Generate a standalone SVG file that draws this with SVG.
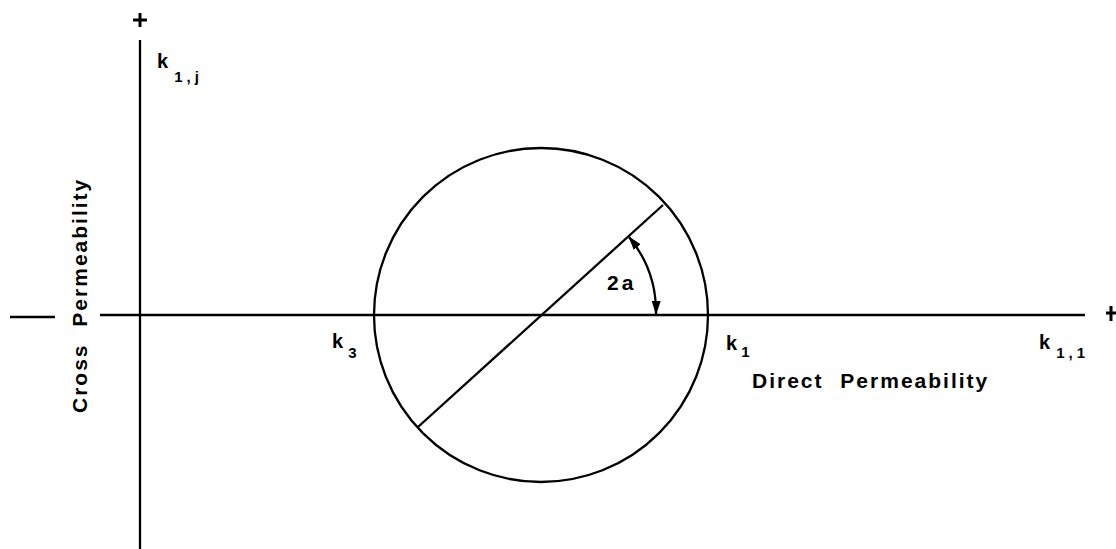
<svg xmlns="http://www.w3.org/2000/svg" width="1116" height="549" viewBox="0 0 1116 549">
<style>
.ln{stroke:#000;stroke-width:2.3;fill:none}
.pl{stroke:#000;stroke-width:3;fill:none}
.t{font-family:"Liberation Sans",Arial,sans-serif;font-weight:bold;fill:#000}
.lab{font-size:21px;letter-spacing:2px;word-spacing:9px}
.k{font-size:20px}
.sub{font-size:15px;letter-spacing:4px}
</style>
<defs>
<marker id="ah" markerWidth="14" markerHeight="10" refX="13" refY="5" orient="auto-start-reverse" markerUnits="userSpaceOnUse" viewBox="0 0 14 10">
<path d="M0,0.5 L14,5 L0,9.5 Z" fill="#000"/>
</marker>
</defs>
<g id="axes">
<line class="ln" x1="140" y1="40" x2="140" y2="549"/>
<line class="ln" x1="100" y1="315" x2="1085" y2="315"/>
<line class="ln" x1="10" y1="317" x2="55" y2="317"/>
<path class="pl" d="M133,20 H147 M140,13 V27"/>
<path class="pl" d="M1106,313 H1116 M1111,306 V321"/>
</g>
<g id="circle">
<circle class="ln" cx="541" cy="315" r="167"/>
<line class="ln" x1="663" y1="205" x2="418" y2="427"/>
</g>
<g id="connectors">
<path class="ln" d="M629,237 A118,118 0 0 1 656,314" marker-start="url(#ah)" marker-end="url(#ah)" stroke-width="1.8"/>
</g>
<g id="labels">
<text class="t" x="607" y="290" font-size="21" letter-spacing="3">2a</text>
<text class="t k" x="157" y="68">k<tspan class="sub" dx="6" dy="14">1,j</tspan></text>
<text class="t k" x="332" y="348">k<tspan class="sub" dx="5" dy="10">3</tspan></text>
<text class="t k" x="726" y="350">k<tspan class="sub" dx="4" dy="7">1</tspan></text>
<text class="t k" x="1039" y="349">k<tspan class="sub" dx="6" dy="9">1,1</tspan></text>
<text class="t lab" x="752" y="388">Direct Permeability</text>
<text class="t lab" transform="translate(87,413) rotate(-90)">Cross Permeability</text>
</g>
</svg>
